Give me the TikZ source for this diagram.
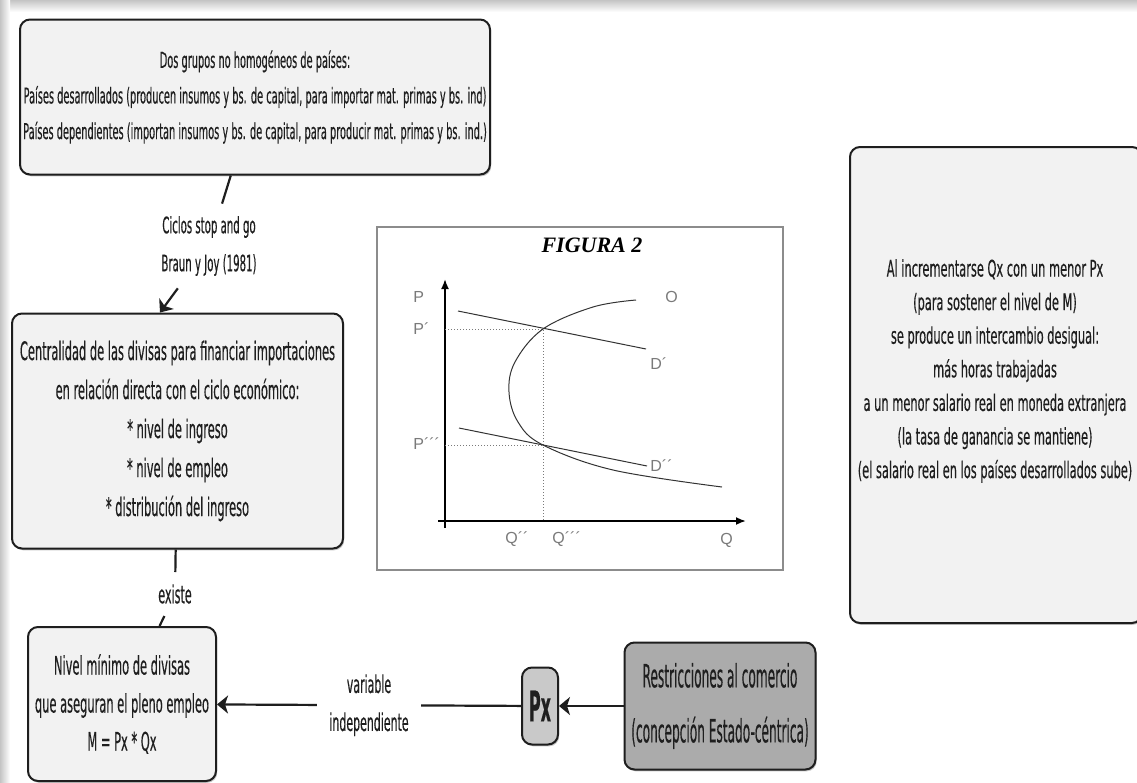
\documentclass[tikz,border=0pt]{standalone}
\usepackage{fontspec}
\setmainfont{DejaVu Sans}[FakeStretch=0.45, FakeBold=0.3]
\newfontfamily\widefont{DejaVu Sans}[FakeStretch=0.5, FakeBold=0.3]
\newfontfamily\tallfont{DejaVu Sans}[FakeStretch=0.38, FakeBold=0.3]
\newfontfamily\figfont{Liberation Sans}
\newfontfamily\figtitlefont{Liberation Serif}
\usetikzlibrary{arrows.meta,shadows}
\definecolor{mapInk}{HTML}{1E1E1E}
\definecolor{mapText}{HTML}{1F1F1F}
\definecolor{mapPale}{HTML}{F2F2F2}
\definecolor{mapMid}{HTML}{C9C9C9}
\definecolor{mapDark}{HTML}{ABABAB}
\definecolor{mapFrame}{HTML}{8C8C8C}
\definecolor{mapEdge}{HTML}{C4C4C4}
\definecolor{figGray}{HTML}{7A7A7A}
\tikzset{
  every picture/.style={text=mapText},
  map box/.style={draw=mapInk, line width=1pt, rounded corners=5pt,
    fill=mapPale, align=center, inner sep=0pt,
    drop shadow={shadow xshift=0.6pt, shadow yshift=-0.9pt, opacity=0.45}},
  map label/.style={align=center, inner sep=6pt},
  map line/.style={draw=mapInk, line width=1.1pt},
  map arrow/.style={map line, -{Stealth[length=5.5pt,width=9pt,inset=1.5pt]}},
  fig line/.style={draw=black!80, line width=0.5pt},
  fig axis/.style={draw=black, line width=0.9pt, -{Latex[length=5pt,width=4pt]}},
  fig guide/.style={draw=figGray, line width=0.5pt, densely dotted},
  fig label/.style={font=\figfont\fontsize{8}{9}\selectfont, text=figGray,
    inner sep=0pt, anchor=west}
}

\begin{document}
\begin{tikzpicture}[x=0.5pt, y=-0.5pt]
  \clip (0,0) rectangle (1137,783);
  \fill[white] (0,0) rectangle (1137,783);
  \shade[top color=mapEdge, bottom color=white] (0,0) rectangle (1137,12);
  \shade[left color=mapEdge, right color=white] (0,0) rectangle (10,783);

  \node[map box, minimum width=235pt, minimum height=77.5pt,
    font=\fontsize{10.9}{17.8}\selectfont] (grupos) at (255,97)
    {Dos grupos no homogéneos de países:\\Países desarrollados (producen insumos y bs. de capital, para importar mat. primas y bs. ind)\\Países dependientes (importan insumos y bs. de capital, para producir mat. primas y bs. ind.)};
  \node[map label, font=\fontsize{11.3}{19}\selectfont] (ciclos) at (209,246)
    {Ciclos stop and go\\Braun y Joy (1981)};
  \node[map box, minimum width=165.5pt, minimum height=117.5pt,
    font=\fontsize{12.7}{19.5}\selectfont] (divisas) at (177.5,431)
    {Centralidad de las divisas para financiar importaciones\\en relación directa con el ciclo económico:\\* nivel de ingreso\\* nivel de empleo\\* distribución del ingreso};
  \node[map label, font=\fontsize{12.4}{14}\selectfont] (existe) at (175,594) {existe};
  \node[map box, minimum width=94pt, minimum height=77pt,
    font=\fontsize{12.7}{19}\selectfont] (nivel) at (122,704)
    {Nivel mínimo de divisas\\que aseguran el pleno empleo\\M = Px * Qx};
  \node[map box, fill=mapMid, minimum width=18pt, minimum height=38.5pt,
    font=\tallfont\bfseries\fontsize{21}{24}\selectfont] (px) at (540,706) {Px};
  \node[map box, fill=mapDark, minimum width=95.5pt, minimum height=63.5pt,
    font=\tallfont\fontsize{16}{27.5}\selectfont] (restric) at (720,706)
    {Restricciones al comercio\\(concepción Estado-céntrica)};
  \node[map box, minimum width=146pt, minimum height=238pt] (intercambio) at (996,385) {};
  \node[align=center, inner sep=0pt, font=\widefont\fontsize{11.4}{16.8}\selectfont]
    (intercambiotxt) at (995,371)
    {Al incrementarse Qx con un menor Px\\(para sostener el nivel de M)\\se produce un intercambio desigual:\\más horas trabajadas\\a un menor salario real en moneda extranjera\\(la tasa de ganancia se mantiene)\\(el salario real en los países desarrollados sube)};

  \draw[map line] (grupos) -- (ciclos);
  \draw[map arrow] (ciclos) -- ([xshift=-8.75pt]divisas.north);
  \draw[map line] (divisas) -- (existe);
  \draw[map line] (existe) -- (nivel);
  \draw[map arrow] (px) -- node[map label, fill=white, font=\fontsize{12.2}{19}\selectfont]
    {variable\\independiente} (nivel);
  \draw[map arrow] (restric) -- (px);

  \draw[draw=mapFrame, line width=0.6pt] (377,227) rectangle (783,570);
  \node[font=\figtitlefont\bfseries\itshape\fontsize{11}{13}\selectfont, text=black]
    (figtitle) at (592,245) {FIGURA 2};
  \draw[fig axis] (445,528) -- (445,279);
  \draw[fig axis] (438,521) -- (746,521);
  \draw[fig guide] (445,329) -- (543,329) -- (543,521);
  \draw[fig guide] (445,445) -- (543,445);
  \draw[fig line] (458,311) -- (646,349);
  \draw[fig line] (459,428) -- (647,466);
  \draw[fig line] plot[smooth, tension=0.6] coordinates
    {(636,300) (593,307) (543,329) (515,362) (509,392) (518,422) (543,445) (613,470) (722,487)};
  \node[fig label] (lblP) at (413,297) {P};
  \node[fig label] (lblP1) at (413,329) {P´};
  \node[fig label] (lblP3) at (413,444) {P´´´};
  \node[fig label] (lblO) at (665,297) {O};
  \node[fig label] (lblD1) at (650,364) {D´};
  \node[fig label] (lblD2) at (650,466) {D´´};
  \node[fig label] (lblQ2) at (505,539) {Q´´};
  \node[fig label] (lblQ3) at (552,539) {Q´´´};
  \node[fig label] (lblQ) at (720,540) {Q};
\end{tikzpicture}
\end{document}
